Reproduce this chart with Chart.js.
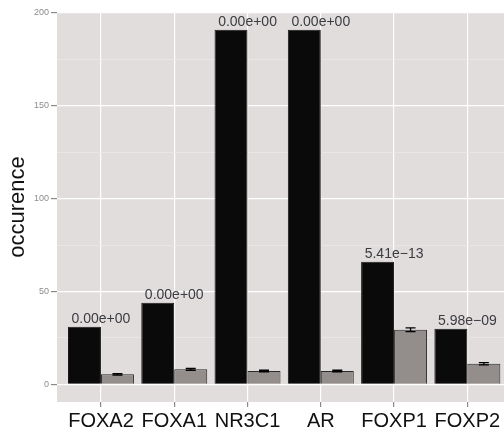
<!DOCTYPE html>
<html>
<head>
<meta charset="utf-8">
<script src="https://cdn.jsdelivr.net/npm/chart.js@4.4.0/dist/chart.umd.min.js"></script>
<style>
  body { margin: 0; background: #fff; }
  canvas { display: block; }
</style>
</head>
<body>
<canvas id="motifChart" width="504" height="434"></canvas>
<script>
// values
const genes = ['FOXA2', 'FOXA1', 'NR3C1', 'AR', 'FOXP1', 'FOXP2'];
const observed = [31, 44, 191, 191, 66, 30];
const expected = [5.4, 8.1, 7.2, 7.2, 29.4, 11.1];
const expectedErr = [0.4, 0.5, 0.4, 0.4, 1.0, 0.6];
const pvalues = ['0.00e+00', '0.00e+00', '0.00e+00', '0.00e+00', '5.41e\u221213', '5.98e\u221209'];
const yTicks = [0, 25, 50, 75, 100, 125, 150, 175, 200];

const panelBg = {
    id: 'panelBg',
    beforeDraw(chart) {
        const a = chart.chartArea;
        const ctx = chart.ctx;
        ctx.save();
        ctx.fillStyle = '#e0dddc';
        ctx.fillRect(a.left, a.top, a.right - a.left, a.bottom - a.top);
        ctx.restore();
    }
};

// error bars on the background bars + p-value labels over the observed bars
const annotations = {
    id: 'annotations',
    afterDatasetsDraw(chart) {
        const ctx = chart.ctx;
        const x = chart.scales.x;
        const y = chart.scales.y;
        const meta = chart.getDatasetMeta(1);
        ctx.save();
        ctx.strokeStyle = '#000';
        ctx.lineWidth = 1.3;
        meta.data.forEach((bar, i) => {
            const cx = bar.x;
            const top = y.getPixelForValue(expected[i] + expectedErr[i]);
            const bot = y.getPixelForValue(expected[i] - expectedErr[i]);
            ctx.beginPath();
            ctx.moveTo(cx - 5, top); ctx.lineTo(cx + 5, top);
            ctx.moveTo(cx - 5, bot); ctx.lineTo(cx + 5, bot);
            ctx.moveTo(cx, top); ctx.lineTo(cx, bot);
            ctx.stroke();
        });
        ctx.fillStyle = '#3b3b42';
        ctx.font = '14px "Liberation Sans", Arial, sans-serif';
        ctx.textAlign = 'center';
        ctx.textBaseline = 'alphabetic';
        genes.forEach((g, i) => {
            ctx.fillText(pvalues[i], x.getPixelForValue(i), y.getPixelForValue(observed[i]) - 4);
        });
        ctx.restore();
    }
};

new Chart(document.getElementById('motifChart').getContext('2d'), {
    type: 'bar',
    data: {
        datasets: [
            {
                label: 'observed',
                data: observed.map((v, i) => ({ x: i, y: v })),
                backgroundColor: '#0b0a0a',
                borderColor: '#1a1a1a',
                borderWidth: 1
            },
            {
                label: 'background',
                data: expected.map((v, i) => ({ x: i, y: v })),
                backgroundColor: '#938d8b',
                borderColor: '#2a2a2a',
                borderWidth: 1
            }
        ]
    },
    options: {
        responsive: false,
        animation: false,
        layout: { padding: { top: 12, left: 0, right: 0, bottom: 0 } },
        categoryPercentage: 0.9,
        barPercentage: 1,
        plugins: {
            legend: { display: false },
            tooltip: { enabled: false }
        },
        scales: {
            x: {
                type: 'linear',
                min: -0.6,
                max: 5.5,
                offset: false,
                border: { display: false },
                grid: {
                    offset: false,
                    color: '#ffffff',
                    lineWidth: 1.2,
                    tickColor: '#8a8a8a',
                    tickLength: 5
                },
                afterBuildTicks(scale) {
                    scale.ticks = genes.map((g, i) => ({ value: i }));
                },
                afterFit(scale) { scale.height = 32; },
                ticks: {
                    autoSkip: false,
                    maxRotation: 0,
                    padding: 2,
                    color: '#111',
                    font: { family: '"Liberation Sans", Arial, sans-serif', size: 20 },
                    callback: (v) => genes[Math.round(v)]
                }
            },
            y: {
                min: -9.5,
                max: 200.5,
                border: { display: false },
                grid: {
                    color: (c) => (c.tick && c.tick.value % 50 === 0) ? '#ffffff' : '#ebe9e8',
                    lineWidth: (c) => (c.tick && c.tick.value % 50 === 0) ? 1.2 : 0.8,
                    tickColor: (c) => (c.tick && c.tick.value % 50 === 0) ? '#8a8a8a' : 'rgba(0,0,0,0)',
                    tickLength: 6
                },
                afterBuildTicks(scale) {
                    scale.ticks = yTicks.map(v => ({ value: v }));
                },
                afterFit(scale) { scale.width = 57; },
                ticks: {
                    autoSkip: false,
                    padding: 2,
                    color: '#8c8c8c',
                    font: { family: '"Liberation Sans", Arial, sans-serif', size: 9 },
                    callback: (v) => v % 50 === 0 ? v : ''
                },
                title: {
                    display: true,
                    text: 'occurence',
                    color: '#111',
                    padding: { top: 5, bottom: 0 },
                    font: { family: '"Liberation Sans", Arial, sans-serif', size: 22 }
                }
            }
        }
    },
    plugins: [panelBg, annotations]
});
</script>
</body>
</html>
